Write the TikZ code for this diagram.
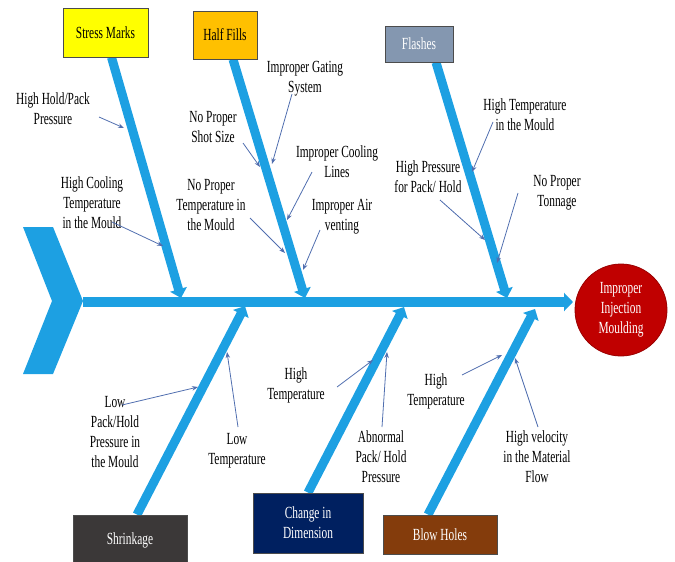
\documentclass[tikz,border=0pt]{standalone}
\usepackage{fontspec}
\setmainfont{Liberation Serif}[FakeStretch=0.67]
\usetikzlibrary{arrows.meta,backgrounds}
\definecolor{bone}{RGB}{29,160,226}
\definecolor{thinarrow}{RGB}{80,110,175}
\definecolor{smfill}{RGB}{255,255,0}
\definecolor{hffill}{RGB}{255,192,0}
\definecolor{flfill}{RGB}{132,151,176}
\definecolor{shfill}{RGB}{59,56,56}
\definecolor{cdfill}{RGB}{0,32,96}
\definecolor{bhfill}{RGB}{132,60,12}
\definecolor{effectfill}{RGB}{192,0,0}
\begin{document}
\begin{tikzpicture}[x=1pt,y=-1pt,
  lbl/.style={align=center,font=\fontsize{17}{20}\selectfont,inner sep=0pt},
  catbox/.style={draw=black!70,line width=0.8pt,font=\fontsize{17}{20}\selectfont,align=center,inner sep=0pt},
  bonearrow/.style={draw=bone,line width=9pt,-{Triangle[length=9pt,width=17pt]}},
  cause/.style={draw=thinarrow,line width=0.8pt,-{Stealth[length=6pt,width=4.5pt]}}]
\useasboundingbox (0,0) rectangle (675,562);

% category boxes
\node[catbox,fill=smfill,minimum width=85pt,minimum height=49pt] (sm) at (105.5,32.5) {Stress Marks};
\node[catbox,fill=hffill,minimum width=64pt,minimum height=48pt] (hf) at (225,35) {Half Fills};
\node[catbox,fill=flfill,text=white,minimum width=68pt,minimum height=36pt] (fl) at (419,44) {Flashes};
\node[catbox,fill=shfill,text=white,minimum width=114pt,minimum height=50pt] (sh) at (130,540) {Shrinkage};
\node[catbox,fill=cdfill,text=white,minimum width=110pt,minimum height=60pt] (cd) at (308,523) {Change in\\Dimension};
\node[catbox,fill=bhfill,text=white,minimum width=114pt,minimum height=39pt] (bh) at (440,534.5) {Blow Holes};

% effect
\node[circle,fill=effectfill,draw=effectfill!80!black,line width=0.8pt,minimum size=92pt,inner sep=0pt,
      text=white,align=center,font=\fontsize{17}{20}\selectfont] (effect) at (621,310) {Improper\\Injection\\Moulding};

% junctions on spine
\coordinate (jsm) at (181,298);
\coordinate (jhf) at (305,298);
\coordinate (jfl) at (507,298);
\coordinate (jsh) at (245,306);
\coordinate (jcd) at (404,307);
\coordinate (jbh) at (535,309);
\coordinate (tail) at (83,302);
\coordinate (head) at (575,302);

\begin{pgfonlayer}{background}
  \fill[bone] (23,227) -- (53,227) -- (83,301) -- (53,374) -- (23,374) -- (52,301) -- cycle;
  \draw[draw=bone,line width=10pt,-{Triangle[length=9pt,width=18pt]},shorten >=2pt] (tail) -- (head);
  \draw[bonearrow] ([xshift=6pt]sm.south) -- (jsm);
  \draw[bonearrow] ([xshift=8pt]hf.south) -- (jhf);
  \draw[bonearrow] ([xshift=17pt]fl.south) -- (jfl);
  \draw[bonearrow] ([xshift=7pt]sh.north) -- (jsh);
  \draw[bonearrow] (cd.north) -- (jcd);
  \draw[bonearrow] ([xshift=-12pt]bh.north) -- (jbh);
\end{pgfonlayer}

% cause labels
\node[lbl] (c1) at (53,109) {High Hold/Pack\\Pressure};
\node[lbl] (c2) at (92,203) {High Cooling\\Temperature\\in the Mould};
\node[lbl] (c3) at (213,127) {No Proper\\Shot Size};
\node[lbl] (c4) at (305,79) {Improper Gating\\System};
\node[lbl] (c5) at (211,205) {No Proper\\Temperature in\\the Mould};
\node[lbl] (c6) at (337,162) {Improper Cooling\\Lines};
\node[lbl] (c7) at (342,217) {Improper Air\\venting};
\node[lbl] (c8) at (525,115) {High Temperature\\in the Mould};
\node[lbl] (c9) at (428,177) {High Pressure\\for Pack/ Hold};
\node[lbl] (c10) at (557,193) {No Proper\\Tonnage};
\node[lbl] (c11) at (115,432) {Low\\Pack/Hold\\Pressure in\\the Mould};
\node[lbl] (c12) at (237,451) {Low\\Temperature};
\node[lbl] (c13) at (296,385) {High\\Temperature};
\node[lbl] (c14) at (381,457) {Abnormal\\Pack/ Hold\\Pressure};
\node[lbl] (c15) at (436,391) {High\\Temperature};
\node[lbl] (c16) at (537,457) {High velocity\\in the Material\\Flow};

% cause arrows
\coordinate (a1s) at (99,117);   \coordinate (a1e) at (124,128);
\coordinate (a2s) at (112,222);  \coordinate (a2e) at (163,246);
\coordinate (a3s) at (243,143);  \coordinate (a3e) at (260,167);
\coordinate (a4s) at (292,94);   \coordinate (a4e) at (272,164);
\coordinate (a5s) at (250,218);  \coordinate (a5e) at (285,253);
\coordinate (a6s) at (312,172);  \coordinate (a6e) at (287,220);
\coordinate (a7s) at (320,230);  \coordinate (a7e) at (303,270);
\coordinate (a8s) at (493,122);  \coordinate (a8e) at (472,172);
\coordinate (a9s) at (440,200);  \coordinate (a9e) at (485,240);
\coordinate (a10s) at (518,193); \coordinate (a10e) at (497,263);
\coordinate (a11s) at (122,405); \coordinate (a11e) at (198,387);
\coordinate (a12s) at (238,427); \coordinate (a12e) at (227,352);
\coordinate (a13s) at (337,387); \coordinate (a13e) at (373,360);
\coordinate (a14s) at (382,427); \coordinate (a14e) at (387,352);
\coordinate (a15s) at (462,375); \coordinate (a15e) at (502,355);
\coordinate (a16s) at (538,427); \coordinate (a16e) at (515,358);
\foreach \i in {1,...,16} {\draw[cause] (a\i s) -- (a\i e);}
\end{tikzpicture}
\end{document}
